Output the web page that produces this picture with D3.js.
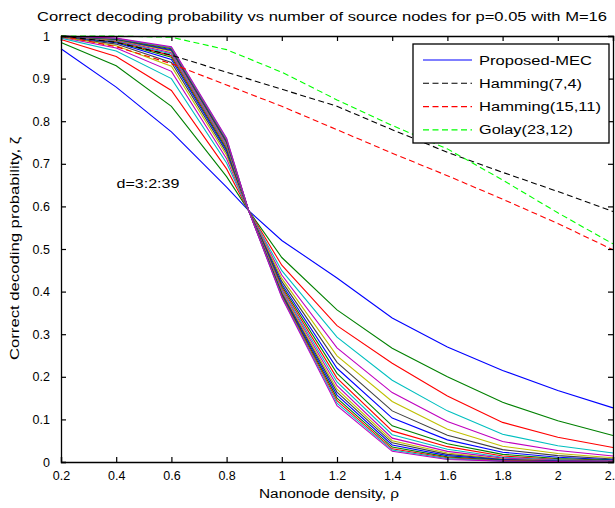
<!DOCTYPE html>
<html>
<head>
<meta charset="utf-8">
<script src="https://cdn.jsdelivr.net/npm/d3@7"></script>
<style>
  body { margin: 0; background: #fff; }
  svg { display: block; font-family: "Liberation Sans", Arial, sans-serif; }
</style>
</head>
<body>
<svg id="chart" width="615" height="508"></svg>
<script>
// densities where the MEC curves were sampled
const rho = [0.2, 0.4, 0.6, 0.8, 0.88, 1.0, 1.2, 1.4, 1.6, 1.8, 2.0, 2.2]
// d = 3:2:39
const dValues = [3, 5, 7, 9, 11, 13, 15, 17, 19, 21, 23, 25, 27, 29, 31, 33, 35, 37, 39]
// one row per d value (proposed MEC)
const mecCurves = [
    [0.97, 0.88, 0.775, 0.645, 0.59, 0.52, 0.432, 0.338, 0.27, 0.215, 0.168, 0.127],
    [0.985, 0.93, 0.835, 0.67, 0.59, 0.48, 0.357, 0.267, 0.2, 0.14, 0.097, 0.062],
    [0.992, 0.952, 0.872, 0.688, 0.59, 0.462, 0.32, 0.232, 0.155, 0.093, 0.058, 0.034],
    [0.995, 0.965, 0.9, 0.702, 0.59, 0.449, 0.293, 0.192, 0.12, 0.065, 0.038, 0.021],
    [0.997, 0.972, 0.917, 0.712, 0.59, 0.439, 0.268, 0.163, 0.095, 0.048, 0.027, 0.014],
    [0.998, 0.977, 0.929, 0.72, 0.59, 0.431, 0.249, 0.142, 0.077, 0.037, 0.02, 0.01],
    [0.999, 0.981, 0.938, 0.726, 0.59, 0.424, 0.234, 0.12, 0.063, 0.029, 0.015, 0.007],
    [1, 0.984, 0.945, 0.731, 0.59, 0.418, 0.22, 0.103, 0.052, 0.023, 0.011, 0.005],
    [1, 0.986, 0.95, 0.735, 0.59, 0.413, 0.208, 0.085, 0.043, 0.018, 0.008, 0.004],
    [1, 0.988, 0.954, 0.739, 0.59, 0.409, 0.197, 0.073, 0.036, 0.014, 0.006, 0.003],
    [1, 0.989, 0.958, 0.742, 0.59, 0.405, 0.188, 0.064, 0.03, 0.011, 0.005, 0.002],
    [1, 0.99, 0.961, 0.745, 0.59, 0.402, 0.179, 0.056, 0.025, 0.009, 0.004, 0.002],
    [1, 0.991, 0.964, 0.748, 0.59, 0.399, 0.171, 0.05, 0.021, 0.007, 0.003, 0.001],
    [1, 0.992, 0.966, 0.75, 0.59, 0.396, 0.164, 0.045, 0.018, 0.006, 0.002, 0.001],
    [1, 0.993, 0.968, 0.752, 0.59, 0.394, 0.157, 0.04, 0.015, 0.005, 0.002, 0.001],
    [1, 0.993, 0.97, 0.754, 0.59, 0.392, 0.15, 0.035, 0.012, 0.004, 0.001, 0.001],
    [1, 0.994, 0.972, 0.756, 0.59, 0.39, 0.144, 0.031, 0.01, 0.003, 0.001, 0],
    [1, 0.994, 0.973, 0.758, 0.59, 0.388, 0.138, 0.028, 0.008, 0.002, 0.001, 0],
    [1, 0.995, 0.975, 0.76, 0.59, 0.386, 0.132, 0.025, 0.006, 0.002, 0.001, 0]
]
// reference codes
const rhoRef = [0.2, 0.4, 0.6, 0.8, 1.0, 1.2, 1.4, 1.6, 1.8, 2.0, 2.2]
const hamming74 = [1.0, 0.985, 0.955, 0.915, 0.875, 0.835, 0.78, 0.727, 0.68, 0.635, 0.588]
const hamming1511 = [1.0, 0.975, 0.935, 0.885, 0.835, 0.78, 0.725, 0.672, 0.617, 0.56, 0.498]
const golay2312 = [1.0, 1.0, 0.997, 0.968, 0.915, 0.85, 0.79, 0.735, 0.662, 0.585, 0.512]

const xTicks = [0.2, 0.4, 0.6, 0.8, 1, 1.2, 1.4, 1.6, 1.8, 2, 2.2]
const yTicks = [0, 0.1, 0.2, 0.3, 0.4, 0.5, 0.6, 0.7, 0.8, 0.9, 1]
const legendNames = ['Proposed-MEC', 'Hamming(7,4)', 'Hamming(15,11)', 'Golay(23,12)']

//matlab's old color order
const colorOrder = ['#0000ff', '#008000', '#ff0000', '#00bfbf', '#bf00bf', '#bfbf00', '#404040']

const margin = { top: 36, right: 2, bottom: 46, left: 61 }
const width = 615 - margin.left - margin.right
const height = 508 - margin.top - margin.bottom

const svg = d3.select('#chart')
const g = svg.append('g')
    .attr('transform', `translate(${margin.left}, ${margin.top})`)

const x = d3.scaleLinear().domain([0.2, 2.2]).range([0, width])
const y = d3.scaleLinear().domain([0, 1]).range([height, 0])

const line = d3.line()
    .x(d => x(d[0]))
    .y(d => y(d[1]))

//MEC curves, d = 3..39
mecCurves.forEach((vals, i) => {
    g.append('path')
        .datum(vals.map((v, j) => [rho[j], v]))
        .attr('class', `mec d${dValues[i]}`)
        .attr('fill', 'none')
        .attr('stroke', colorOrder[i % colorOrder.length])
        .attr('stroke-width', 1.1)
        .attr('d', line)
})

//reference codes, dashed
const refSeries = [
    { vals: hamming74, color: '#000000' },
    { vals: hamming1511, color: '#ff0000' },
    { vals: golay2312, color: '#00ff00' }
]
refSeries.forEach(s => {
    g.append('path')
        .datum(s.vals.map((v, j) => [rhoRef[j], v]))
        .attr('fill', 'none')
        .attr('stroke', s.color)
        .attr('stroke-width', 1.1)
        .attr('stroke-dasharray', '6,3.5')
        .attr('d', line)
})

//axes (ticks inward, box on)
const tickLen = 5
g.append('g')
    .attr('transform', `translate(0, ${height})`)
    .call(d3.axisBottom(x).tickValues(xTicks).tickSize(-tickLen).tickPadding(tickLen + 4).tickFormat(d3.format('')))
g.append('g')
    .call(d3.axisTop(x).tickValues(xTicks).tickSize(-tickLen).tickFormat(''))
g.append('g')
    .call(d3.axisLeft(y).tickValues(yTicks).tickSize(-tickLen).tickPadding(tickLen + 6).tickFormat(d3.format('')))
g.append('g')
    .attr('transform', `translate(${width}, 0)`)
    .call(d3.axisRight(y).tickValues(yTicks).tickSize(-tickLen).tickFormat(''))

g.selectAll('.domain').attr('stroke', '#000').attr('stroke-width', 1.3)
g.selectAll('.tick line').attr('stroke', '#000').attr('stroke-width', 1.2)
g.selectAll('.tick text').attr('font-size', '12.5px').attr('fill', '#000')

//title + labels
svg.append('text')
    .attr('x', 37).attr('y', 21)
    .attr('font-size', '12.5px')
    .attr('textLength', 570).attr('lengthAdjust', 'spacingAndGlyphs')
    .text('Correct decoding probability vs number of source nodes for p=0.05 with M=16')

svg.append('text')
    .attr('x', 259).attr('y', 498)
    .attr('font-size', '12.5px')
    .attr('textLength', 140).attr('lengthAdjust', 'spacingAndGlyphs')
    .text('Nanonode density, ρ')

svg.append('text')
    .attr('transform', 'translate(19, 360) rotate(-90)')
    .attr('font-size', '12.5px')
    .attr('textLength', 223).attr('lengthAdjust', 'spacingAndGlyphs')
    .text('Correct decoding probability, ζ')

g.append('text')
    .attr('x', x(0.401)).attr('y', y(0.643))
    .attr('font-size', '12.5px')
    .attr('textLength', 63).attr('lengthAdjust', 'spacingAndGlyphs')
    .text('d=3:2:39')

//legend
const legend = svg.append('g').attr('transform', 'translate(413, 44)')
legend.append('rect')
    .attr('width', 196).attr('height', 99)
    .attr('fill', '#fff').attr('stroke', '#000').attr('stroke-width', 1.3)
const legendColors = ['#0000ff', '#000000', '#ff0000', '#00ff00']
const legendWidths = [113, 103, 122, 94]
legendNames.forEach((name, i) => {
    const ly = 16 + i * 23.3
    legend.append('line')
        .attr('x1', 10).attr('x2', 59).attr('y1', ly).attr('y2', ly)
        .attr('stroke', legendColors[i]).attr('stroke-width', 1.1)
        .attr('stroke-dasharray', i === 0 ? null : '6,3.5')
    legend.append('text')
        .attr('x', 66).attr('y', ly + 4.5)
        .attr('font-size', '12.5px')
        .attr('textLength', legendWidths[i]).attr('lengthAdjust', 'spacingAndGlyphs')
        .text(name)
})
</script>
</body>
</html>
